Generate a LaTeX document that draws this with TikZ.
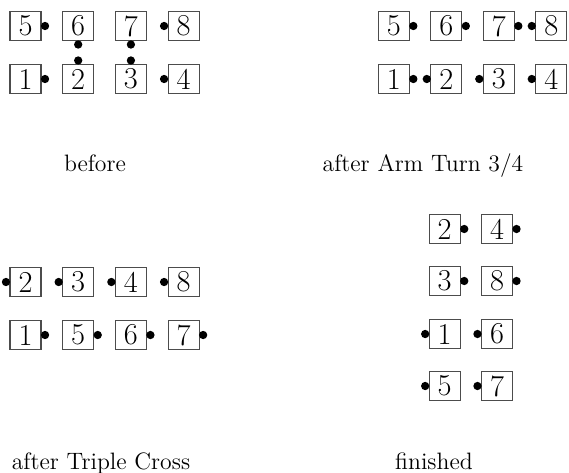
\documentclass[tikz,border=0pt]{standalone}
\begin{document}
\begin{tikzpicture}[
  arm/.style={draw=black!70, line width=0.6pt, minimum width=6.2mm, minimum height=5.8mm, inner sep=0pt, font=\LARGE},
  caption/.style={anchor=base, font=\fontsize{13.5}{16}\selectfont}
]
  \useasboundingbox (0,0) rectangle (11.38,-9.44);

  % before
  \node[arm] (b5) at (0.51, -0.52) {5};
  \node[arm] (b6) at (1.564, -0.52) {6};
  \node[arm] (b7) at (2.618, -0.52) {7};
  \node[arm] (b8) at (3.672, -0.52) {8};
  \node[arm] (b1) at (0.51, -1.58) {1};
  \node[arm] (b2) at (1.564, -1.58) {2};
  \node[arm] (b3) at (2.618, -1.58) {3};
  \node[arm] (b4) at (3.672, -1.58) {4};
  \node[caption] (lbefore) at (1.9, -3.42) {before};

  % after Arm Turn 3/4
  \node[arm] (a5) at (7.876, -0.52) {5};
  \node[arm] (a6) at (8.926, -0.52) {6};
  \node[arm] (a7) at (9.976, -0.52) {7};
  \node[arm] (a8) at (11.026, -0.52) {8};
  \node[arm] (a1) at (7.876, -1.58) {1};
  \node[arm] (a2) at (8.926, -1.58) {2};
  \node[arm] (a3) at (9.976, -1.58) {3};
  \node[arm] (a4) at (11.026, -1.58) {4};
  \node[caption] (lturn) at (8.46, -3.42) {after Arm Turn 3/4};

  % after Triple Cross
  \node[arm] (t2) at (0.51, -5.64) {2};
  \node[arm] (t3) at (1.564, -5.64) {3};
  \node[arm] (t4) at (2.618, -5.64) {4};
  \node[arm] (t8) at (3.672, -5.64) {8};
  \node[arm] (t1) at (0.51, -6.70) {1};
  \node[arm] (t5) at (1.564, -6.70) {5};
  \node[arm] (t6) at (2.618, -6.70) {6};
  \node[arm] (t7) at (3.672, -6.70) {7};
  \node[caption] (lcross) at (2.02, -9.38) {after Triple Cross};

  % finished
  \node[arm] (f2) at (8.894, -4.58) {2};
  \node[arm] (f4) at (9.94, -4.58) {4};
  \node[arm] (f3) at (8.894, -5.62) {3};
  \node[arm] (f8) at (9.94, -5.62) {8};
  \node[arm] (f1) at (8.894, -6.68) {1};
  \node[arm] (f6) at (9.94, -6.68) {6};
  \node[arm] (f5) at (8.894, -7.72) {5};
  \node[arm] (f7) at (9.94, -7.72) {7};
  \node[caption] (lfinished) at (8.68, -9.38) {finished};

  % hands
  \foreach \n in {b5,b1,a5,a6,a7,a1,t1,t5,t6,t7,f2,f4,f3,f8}
    \fill ([xshift=0.07cm]\n.east) circle (0.083);
  \foreach \n in {b8,b4,a8,a2,a3,a4,t2,t3,t4,t8,f1,f6,f5,f7}
    \fill ([xshift=-0.07cm]\n.west) circle (0.083);
  \foreach \n in {b6,b7}
    \fill ([yshift=-0.07cm]\n.south) circle (0.083);
  \foreach \n in {b2,b3}
    \fill ([yshift=0.07cm]\n.north) circle (0.083);
\end{tikzpicture}
\end{document}
